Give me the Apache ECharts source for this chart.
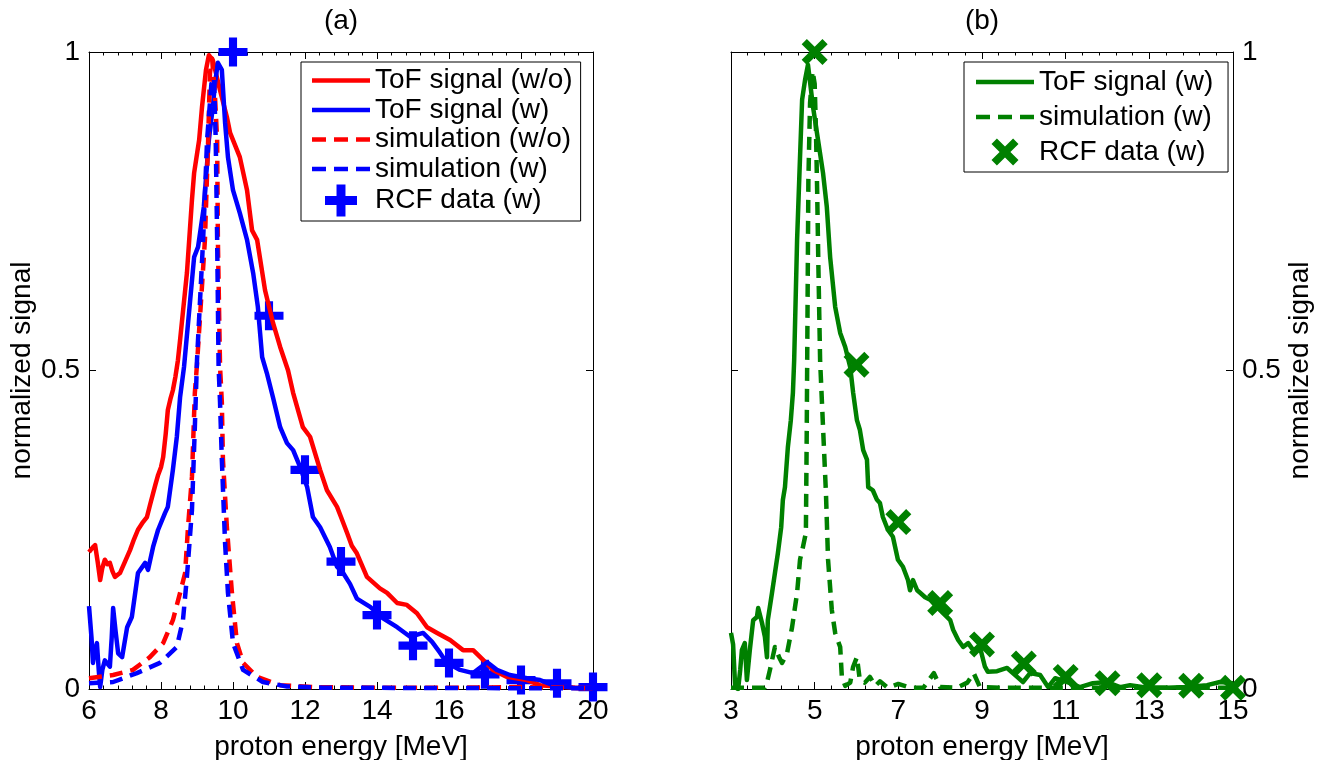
<!DOCTYPE html>
<html>
<head>
<meta charset="utf-8">
<script src="https://cdn.jsdelivr.net/npm/echarts@6/dist/echarts.min.js"></script>
<style>
  html, body { margin: 0; padding: 0; background: #fff; }
  #chart { width: 1328px; height: 760px; }
</style>
</head>
<body>
<div id="chart"></div>
<script>
// ---- Panel (a): ToF spectra without / with the lens, simulations and RCF data ----
const tofWoE = [6.0, 6.03, 6.1, 6.17, 6.24, 6.31, 6.37, 6.44, 6.51, 6.58, 6.65, 6.72, 6.86, 7.0, 7.14, 7.25, 7.36, 7.5, 7.61, 7.7, 7.78, 7.85, 7.92, 8.0, 8.06, 8.13, 8.19, 8.26, 8.33, 8.4, 8.47, 8.53, 8.72, 8.86, 8.92, 9.06, 9.14, 9.25, 9.33, 9.44, 9.64, 9.83, 9.92, 10.19, 10.39, 10.53, 10.67, 10.89, 11.11, 11.31, 11.53, 11.67, 11.94, 12.14, 12.42, 12.61, 12.89, 13.0, 13.17, 13.3, 13.44, 13.72, 14.08, 14.28, 14.56, 14.83, 15.11, 15.39, 15.67, 16.03, 16.39, 16.67, 16.94, 17.22, 17.61, 18.17, 18.53, 19.0, 19.5, 20.0];
const tofWoV = [0.215, 0.213, 0.222, 0.226, 0.2, 0.171, 0.19, 0.203, 0.196, 0.198, 0.185, 0.176, 0.182, 0.2, 0.218, 0.235, 0.25, 0.262, 0.27, 0.29, 0.307, 0.322, 0.336, 0.348, 0.364, 0.4, 0.438, 0.455, 0.469, 0.49, 0.516, 0.548, 0.653, 0.768, 0.81, 0.862, 0.914, 0.972, 0.995, 0.987, 0.94, 0.898, 0.873, 0.835, 0.783, 0.72, 0.705, 0.626, 0.575, 0.537, 0.5, 0.465, 0.411, 0.396, 0.344, 0.312, 0.286, 0.27, 0.245, 0.225, 0.213, 0.176, 0.158, 0.151, 0.135, 0.132, 0.119, 0.097, 0.088, 0.077, 0.061, 0.061, 0.046, 0.03, 0.019, 0.014, 0.006, 0.004, 0.002, 0.001];

const tofWE = [6.0, 6.07, 6.11, 6.16, 6.22, 6.27, 6.31, 6.37, 6.44, 6.51, 6.58, 6.63, 6.67, 6.74, 6.81, 6.92, 7.06, 7.19, 7.36, 7.56, 7.64, 7.78, 7.92, 8.11, 8.19, 8.33, 8.44, 8.53, 8.64, 8.92, 9.03, 9.19, 9.33, 9.44, 9.5, 9.58, 9.69, 9.78, 9.86, 10.0, 10.19, 10.39, 10.56, 10.69, 10.81, 10.94, 11.11, 11.31, 11.5, 11.67, 11.86, 12.06, 12.22, 12.42, 12.69, 12.89, 13.06, 13.25, 13.44, 13.81, 14.17, 14.56, 14.92, 15.28, 15.53, 15.75, 15.94, 16.31, 16.67, 17.06, 17.33, 17.69, 18.17, 18.53, 18.89, 19.44, 20.0];
const tofWV = [0.13, 0.08, 0.041, 0.06, 0.072, 0.03, 0.003, 0.03, 0.045, 0.04, 0.035, 0.08, 0.127, 0.09, 0.056, 0.05, 0.097, 0.113, 0.182, 0.198, 0.187, 0.223, 0.25, 0.276, 0.286, 0.344, 0.396, 0.458, 0.506, 0.678, 0.694, 0.757, 0.862, 0.914, 0.951, 0.983, 0.972, 0.889, 0.835, 0.783, 0.747, 0.705, 0.653, 0.6, 0.521, 0.496, 0.458, 0.411, 0.386, 0.375, 0.349, 0.317, 0.27, 0.254, 0.223, 0.192, 0.182, 0.165, 0.142, 0.129, 0.111, 0.097, 0.082, 0.088, 0.074, 0.057, 0.041, 0.03, 0.025, 0.042, 0.03, 0.022, 0.017, 0.014, 0.006, 0.002, 0.001];

const simWoE = [6.0, 6.67, 7.22, 7.69, 8.06, 8.33, 8.53, 8.67, 8.75, 8.86, 8.94, 9.0, 9.22, 9.31, 9.36, 9.42, 9.5, 9.56, 9.58, 9.64, 9.69, 9.72, 9.83, 9.97, 10.11, 10.28, 10.67, 11.31, 12.22, 14.0, 16.0, 18.0, 20.0];
const simWoV = [0.017, 0.022, 0.03, 0.05, 0.072, 0.108, 0.151, 0.182, 0.254, 0.333, 0.465, 0.51, 0.705, 0.862, 0.967, 0.99, 0.93, 0.862, 0.705, 0.506, 0.45, 0.36, 0.254, 0.151, 0.072, 0.041, 0.019, 0.006, 0.003, 0.002, 0.002, 0.003, 0.001];

const simWE = [6.0, 6.67, 7.33, 7.97, 8.44, 8.61, 8.72, 8.86, 8.94, 9.0, 9.17, 9.28, 9.4, 9.47, 9.52, 9.56, 9.6, 9.64, 9.69, 9.78, 9.86, 10.0, 10.28, 10.83, 11.5, 12.5, 20.0];
const simWV = [0.009, 0.011, 0.025, 0.041, 0.066, 0.108, 0.176, 0.281, 0.411, 0.516, 0.705, 0.862, 0.95, 0.96, 0.862, 0.705, 0.506, 0.45, 0.36, 0.229, 0.151, 0.072, 0.03, 0.011, 0.004, 0.002, 0.001];

const rcfAE = [10, 11, 12, 13, 14, 15, 16, 17, 18, 19, 20];
const rcfAV = [1.0, 0.586, 0.344, 0.2, 0.116, 0.068, 0.041, 0.023, 0.014, 0.009, 0.003];

// ---- Panel (b): ToF spectrum with the lens, simulation and RCF data ----
const tofBE = [3.0, 3.05, 3.1, 3.17, 3.22, 3.26, 3.33, 3.38, 3.45, 3.53, 3.62, 3.65, 3.74, 3.81, 3.86, 3.88, 3.98, 4.05, 4.12, 4.2, 4.24, 4.29, 4.36, 4.43, 4.48, 4.51, 4.58, 4.65, 4.7, 4.77, 4.84, 4.96, 5.08, 5.2, 5.29, 5.37, 5.49, 5.61, 5.73, 5.85, 5.92, 6.01, 6.08, 6.16, 6.25, 6.28, 6.39, 6.49, 6.56, 6.63, 6.75, 6.87, 6.99, 7.11, 7.23, 7.28, 7.35, 7.45, 7.52, 7.64, 7.76, 7.92, 8.07, 8.24, 8.31, 8.43, 8.55, 8.67, 8.79, 8.95, 9.07, 9.14, 9.36, 9.6, 9.84, 9.98, 10.15, 10.39, 10.58, 10.75, 11.03, 11.34, 11.65, 11.99, 12.3, 12.54, 12.95, 13.42, 13.9, 14.38, 14.69, 15.0];
const tofBV = [0.088, 0.07, 0.003, 0.0, 0.03, 0.061, 0.072, 0.014, 0.061, 0.108, 0.113, 0.127, 0.104, 0.082, 0.05, 0.108, 0.151, 0.182, 0.213, 0.254, 0.297, 0.317, 0.38, 0.422, 0.465, 0.516, 0.705, 0.835, 0.925, 0.956, 0.98, 0.914, 0.862, 0.81, 0.757, 0.678, 0.6, 0.559, 0.537, 0.505, 0.465, 0.422, 0.407, 0.375, 0.36, 0.317, 0.312, 0.297, 0.292, 0.27, 0.25, 0.239, 0.203, 0.192, 0.171, 0.155, 0.171, 0.155, 0.151, 0.144, 0.14, 0.129, 0.119, 0.108, 0.093, 0.077, 0.066, 0.072, 0.061, 0.066, 0.035, 0.027, 0.028, 0.033, 0.019, 0.011, 0.025, 0.022, 0.003, 0.017, 0.011, 0.003, 0.009, 0.011, 0.003, 0.006, 0.002, 0.002, 0.003, 0.006, 0.011, 0.009];

const simBE = [3.0, 3.5, 3.8, 3.86, 3.93, 4.05, 4.15, 4.22, 4.34, 4.46, 4.58, 4.65, 4.72, 4.79, 4.81, 4.83, 4.85, 4.89, 4.95, 5.0, 5.03, 5.06, 5.09, 5.13, 5.2, 5.27, 5.32, 5.41, 5.49, 5.61, 5.65, 5.73, 5.85, 5.92, 6.01, 6.08, 6.2, 6.32, 6.45, 6.56, 6.75, 7.0, 7.3, 7.6, 7.85, 8.0, 8.4, 8.65, 8.8, 8.95, 9.5, 15.0];
const simBV = [0.002, 0.002, 0.002, 0.01, 0.03, 0.066, 0.05, 0.041, 0.056, 0.097, 0.151, 0.203, 0.223, 0.245, 0.4, 0.6, 0.8, 0.92, 0.97, 0.95, 0.88, 0.78, 0.66, 0.516, 0.411, 0.307, 0.203, 0.124, 0.088, 0.066, 0.019, 0.005, 0.01, 0.035, 0.05, 0.014, 0.01, 0.019, 0.005, 0.012, 0.002, 0.008, 0.002, 0.002, 0.025, 0.003, 0.002, 0.01, 0.025, 0.003, 0.002, 0.002];

const rcfBE = [5, 6, 7, 8, 9, 10, 11, 12, 13, 14, 15];
const rcfBV = [1.0, 0.509, 0.262, 0.135, 0.07, 0.04, 0.019, 0.009, 0.006, 0.005, 0.002];

// ---- Tick labels ----
const ticksA = [6, 8, 10, 12, 14, 16, 18, 20];
const ticksB = [3, 5, 7, 9, 11, 13, 15];
const ticksY = [0, 0.5, 1];

// minor tick positions for panel (b): every 0.4 MeV between the labelled ticks
const minorB = [];
for (let k = 0; k < ticksB.length - 1; k++) {
  for (let j = 1; j < 5; j++) minorB.push(+(ticksB[k] + j * 0.4).toFixed(2));
}

const FONT = '"Liberation Sans", Arial, Helvetica, sans-serif';
const RED = '#ff0000', BLUE = '#0000ff', GREEN = '#008000';
const LW = 4.5;
const DASH = [13, 8];
const PLUS = 'path://M9,0h7v9h9v7h-9v9h-7v-9h-9v-7h9z';
const CROSS = 'path://M0,5L5,0L12.5,7.5L20,0L25,5L17.5,12.5L25,20L20,25L12.5,17.5L5,25L0,20L7.5,12.5Z';
// legend keys: a solid stroke and a three-dash stroke, 58 px long
const KEY_SOLID = 'path://M0,0H58V4.5H0Z';
const KEY_DASH = 'path://M0,0H14V4.5H0Z M22,0H36V4.5H22Z M44,0H58V4.5H44Z';

const zip = (xs, ys) => xs.map((x, i) => [x, ys[i]]);

const txt = { fontFamily: FONT, fontSize: 28, color: '#000' };
const axisLine = { show: true, onZero: false, lineStyle: { color: '#000', width: 1 } };

function xAxisA(position, labelled) {
  return {
    type: 'value', gridIndex: 0, position, min: 6, max: 20, interval: 2,
    axisLine, splitLine: { show: false },
    axisTick: { show: true, inside: true, length: 7, lineStyle: { color: '#000' } },
    minorTick: { show: true, splitNumber: 5, length: 3.5, lineStyle: { color: '#000' } },
    axisLabel: { show: labelled, margin: 8, showMinLabel: true, showMaxLabel: true, ...txt },
    name: labelled ? 'proton energy [MeV]' : '', nameLocation: 'middle', nameGap: 44, nameTextStyle: txt
  };
}
function xAxisB(position, labelled) {
  return {
    type: 'value', gridIndex: 1, position, min: 3, max: 15,
    axisLine, splitLine: { show: false },
    axisTick: { show: true, inside: true, length: 7, customValues: ticksB, lineStyle: { color: '#000' } },
    axisLabel: { show: labelled, margin: 8, customValues: ticksB, ...txt },
    name: labelled ? 'proton energy [MeV]' : '', nameLocation: 'middle', nameGap: 44, nameTextStyle: txt
  };
}
function xAxisBMinor(position) {
  return {
    type: 'value', gridIndex: 2, position, min: 3, max: 15,
    axisLine: { show: false }, splitLine: { show: false },
    axisTick: { show: true, inside: true, length: 3.5, customValues: minorB, lineStyle: { color: '#000' } },
    axisLabel: { show: false }
  };
}
function yAxisDef(gridIndex, position, labelled) {
  return {
    type: 'value', gridIndex, position, min: 0, max: 1, interval: 0.5,
    axisLine, splitLine: { show: false },
    axisTick: { show: true, inside: true, length: 7, lineStyle: { color: '#000' } },
    axisLabel: { show: labelled, margin: 9, showMinLabel: true, showMaxLabel: true, ...txt },
    name: labelled ? 'normalized signal' : '', nameLocation: 'middle', nameGap: 53, nameRotate: 90,
    nameTextStyle: txt
  };
}

function lineSeries(name, xi, yi, data, color, dashed) {
  return {
    name, type: 'line', xAxisIndex: xi, yAxisIndex: yi, data,
    symbol: 'none', silent: true,
    lineStyle: { color, width: LW, type: dashed ? DASH : 'solid', join: 'round' },
    itemStyle: { color }
  };
}
function markSeries(name, xi, yi, data, color, symbol, size) {
  return {
    name, type: 'scatter', xAxisIndex: xi, yAxisIndex: yi, data,
    symbol, symbolSize: size, clip: false, silent: true,
    itemStyle: { color, opacity: 1 }
  };
}

const legendBase = {
  orient: 'vertical', itemWidth: 58, selectedMode: false,
  borderColor: '#000', borderWidth: 1, borderRadius: 0, backgroundColor: '#fff',
  textStyle: txt, inactiveColor: '#000'
};

const option = {
  animation: false,
  backgroundColor: '#fff',
  grid: [
    { left: 89, top: 52, width: 504, height: 637, outerBoundsMode: 'none' },
    { left: 731, top: 52, width: 502, height: 637, outerBoundsMode: 'none' },
    { left: 731, top: 52, width: 502, height: 637, outerBoundsMode: 'none' }
  ],
  xAxis: [
    xAxisA('bottom', true), xAxisA('top', false),
    xAxisB('bottom', true), xAxisB('top', false),
    xAxisBMinor('bottom'), xAxisBMinor('top')
  ],
  yAxis: [
    yAxisDef(0, 'left', true), yAxisDef(0, 'right', false),
    yAxisDef(1, 'right', true), yAxisDef(1, 'left', false),
    { type: 'value', gridIndex: 2, min: 0, max: 1, show: false }
  ],
  legend: [
    {
      ...legendBase, left: 301, top: 62, itemHeight: 32, itemGap: 1.5, padding: [4.5, 8, 4.5, 11],
      data: [
        { name: 'ToF signal (w/o)', icon: KEY_SOLID },
        { name: 'ToF signal (w)', icon: KEY_SOLID },
        { name: 'simulation (w/o)', icon: KEY_DASH },
        { name: 'simulation (w)', icon: KEY_DASH },
        { name: 'RCF data (w)', icon: PLUS }
      ]
    },
    {
      ...legendBase, left: 964, top: 62, itemHeight: 27, itemGap: 7, padding: [6, 7, 6, 12],
      data: [
        { name: 'ToF signal (w) ', icon: KEY_SOLID },
        { name: 'simulation (w) ', icon: KEY_DASH },
        { name: 'RCF data (w) ', icon: CROSS }
      ]
    }
  ],
  graphic: [
    { type: 'text', x: 341, y: 21, silent: true,
      style: { text: '(a)', font: '28px ' + FONT, fill: '#000', textAlign: 'center', textVerticalAlign: 'middle' } },
    { type: 'text', x: 982, y: 21, silent: true,
      style: { text: '(b)', font: '28px ' + FONT, fill: '#000', textAlign: 'center', textVerticalAlign: 'middle' } }
  ],
  series: [
    lineSeries('ToF signal (w/o)', 0, 0, zip(tofWoE, tofWoV), RED, false),
    lineSeries('ToF signal (w)', 0, 0, zip(tofWE, tofWV), BLUE, false),
    lineSeries('simulation (w/o)', 0, 0, zip(simWoE, simWoV), RED, true),
    lineSeries('simulation (w)', 0, 0, zip(simWE, simWV), BLUE, true),
    markSeries('RCF data (w)', 0, 0, zip(rcfAE, rcfAV), BLUE, PLUS, 29),
    // panel (b); names carry a trailing space so the two legends stay separate
    lineSeries('ToF signal (w) ', 2, 2, zip(tofBE, tofBV), GREEN, false),
    lineSeries('simulation (w) ', 2, 2, zip(simBE, simBV), GREEN, true),
    markSeries('RCF data (w) ', 2, 2, zip(rcfBE, rcfBV), GREEN, CROSS, 26)
  ]
};

const chart = echarts.init(document.getElementById('chart'), null, { renderer: 'canvas' });
chart.setOption(option);
</script>
</body>
</html>
